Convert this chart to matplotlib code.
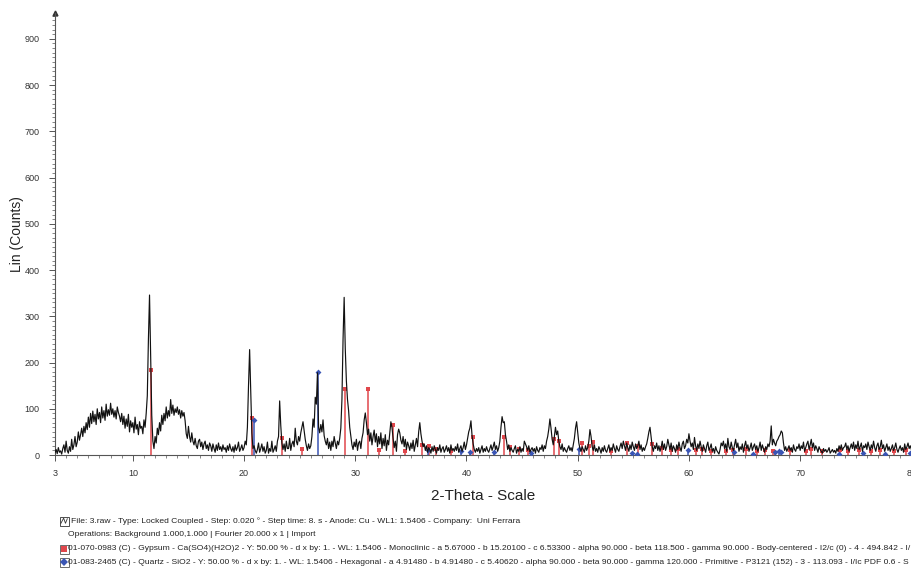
"""
XRD pattern (Lin counts vs 2-Theta) with gypsum and quartz reference sticks.
"""

import numpy as np
import matplotlib
matplotlib.use("Agg")
import matplotlib.pyplot as plt
from matplotlib.patches import Rectangle
from matplotlib.lines import Line2D
from matplotlib.ticker import MultipleLocator, FixedLocator

plt.rcParams['font.family'] = ['Liberation Sans', 'DejaVu Sans']

# ── Measured pattern: counts at 0.1 deg steps, one row per degree ────────────
counts_rows = [
    [5, 12, 3, 16, 6, 9, 2, 14, 22, 6],            # 3
    [30, 10, 4, 18, 8, 34, 12, 22, 40, 18],        # 4
    [28, 50, 32, 44, 58, 40, 62, 48, 70, 55],      # 5
    [82, 60, 90, 68, 95, 72, 88, 66, 100, 78],     # 6
    [92, 70, 104, 80, 96, 75, 110, 84, 98, 86],    # 7
    [112, 88, 100, 82, 96, 78, 104, 92, 84, 72],   # 8
    [90, 66, 84, 58, 78, 62, 88, 50, 74, 60],      # 9
    [70, 48, 82, 56, 66, 44, 72, 58, 62, 46],      # 10
    [76, 60, 90, 128, 250, 346, 210, 86, 30, 14],  # 11
    [40, 26, 58, 44, 70, 52, 86, 66, 90, 74],      # 12
    [104, 80, 96, 84, 120, 90, 108, 86, 100, 92],  # 13
    [104, 88, 98, 80, 96, 84, 92, 74, 46, 36],     # 14
    [62, 40, 28, 48, 30, 22, 36, 20, 14, 30],      # 15
    [34, 18, 28, 12, 24, 30, 14, 22, 10, 26],      # 16
    [20, 8, 24, 14, 6, 22, 10, 26, 12, 18],        # 17
    [8, 22, 12, 16, 6, 20, 10, 24, 14, 8],         # 18
    [18, 6, 22, 10, 16, 28, 8, 14, 22, 10],        # 19
    [16, 30, 22, 60, 150, 228, 140, 48, 14, 20],   # 20
    [10, 4, 12, 26, 6, 14, 24, 8, 18, 4],          # 21
    [10, 28, 4, 14, 8, 30, 6, 12, 20, 8],          # 22
    [30, 40, 117, 64, 26, 12, 24, 8, 30, 14],      # 23
    [14, 36, 10, 24, 30, 18, 58, 30, 22, 40],      # 24
    [30, 48, 60, 72, 52, 34, 20, 10, 24, 14],      # 25
    [20, 40, 78, 60, 125, 110, 178, 60, 48, 66],   # 26
    [50, 76, 42, 30, 22, 36, 14, 28, 10, 30],      # 27
    [18, 40, 26, 14, 30, 22, 36, 58, 120, 250],    # 28
    [341, 230, 160, 120, 96, 60, 40, 22, 12, 28],  # 29
    [18, 34, 10, 26, 30, 14, 36, 48, 76, 91],      # 30
    [70, 44, 56, 30, 48, 22, 40, 54, 28, 46],      # 31
    [18, 40, 24, 48, 14, 36, 20, 44, 10, 32],      # 32
    [22, 46, 72, 60, 36, 16, 30, 8, 44, 56],       # 33
    [48, 32, 24, 40, 18, 34, 12, 28, 20, 10],      # 34
    [26, 14, 32, 8, 22, 36, 18, 50, 70, 46],       # 35
    [30, 18, 24, 10, 20, 6, 16, 12, 4, 18],        # 36
    [8, 20, 12, 4, 16, 10, 22, 6, 14, 18],         # 37
    [6, 12, 20, 8, 16, 4, 22, 10, 14, 8],          # 38
    [18, 10, 24, 6, 14, 20, 8, 16, 28, 12],        # 39
    [22, 36, 50, 58, 74, 42, 24, 12, 6, 14],       # 40
    [8, 16, 4, 12, 20, 6, 14, 8, 18, 10],          # 41
    [6, 14, 22, 10, 18, 28, 12, 20, 8, 16],        # 42
    [30, 60, 83, 70, 72, 44, 30, 12, 22, 8],       # 43
    [16, 10, 6, 14, 20, 4, 12, 8, 18, 6],          # 44
    [14, 8, 30, 24, 18, 10, 20, 6, 12, 16],        # 45
    [8, 14, 4, 18, 10, 6, 16, 12, 22, 8],          # 46
    [20, 14, 30, 40, 56, 78, 58, 34, 22, 40],      # 47
    [60, 44, 52, 30, 18, 12, 24, 8, 16, 10],       # 48
    [6, 14, 20, 10, 16, 8, 22, 36, 58, 72],        # 49
    [50, 26, 14, 8, 18, 12, 6, 20, 10, 16],        # 50
    [30, 55, 40, 18, 10, 22, 8, 14, 6, 18],        # 51
    [12, 4, 16, 8, 20, 10, 6, 14, 22, 8],          # 52
    [16, 10, 24, 14, 6, 20, 12, 8, 18, 26],        # 53
    [14, 30, 20, 10, 26, 16, 8, 22, 12, 28],       # 54
    [18, 10, 24, 14, 20, 30, 12, 22, 8, 16],       # 55
    [10, 18, 24, 36, 50, 60, 40, 18, 8, 20],       # 56
    [14, 26, 10, 20, 8, 16, 30, 12, 24, 10],       # 57
    [18, 34, 22, 12, 26, 8, 20, 14, 6, 22],        # 58
    [12, 28, 16, 8, 24, 30, 14, 20, 34, 26],       # 59
    [46, 30, 18, 26, 12, 38, 20, 10, 24, 14],      # 60
    [30, 18, 8, 22, 14, 6, 20, 28, 10, 16],        # 61
    [24, 8, 14, 4, 18, 10, 6, 2, 12, 26],          # 62
    [20, 30, 14, 24, 8, 36, 18, 12, 28, 16],       # 63
    [10, 22, 34, 16, 26, 8, 18, 12, 24, 6],        # 64
    [20, 30, 14, 22, 8, 16, 26, 10, 18, 24],       # 65
    [12, 20, 8, 16, 28, 10, 22, 14, 6, 18],        # 66
    [12, 24, 18, 30, 63, 22, 34, 26, 20, 30],      # 67
    [34, 40, 44, 52, 48, 26, 10, 18, 8, 14],       # 68
    [20, 10, 16, 6, 22, 12, 8, 18, 14, 24],        # 69
    [10, 20, 14, 28, 8, 16, 24, 30, 12, 22],       # 70
    [34, 16, 26, 10, 20, 14, 6, 18, 12, 8],        # 71
    [4, 14, 8, 12, 6, 10, 16, 4, 8, 12],           # 72
    [6, 10, 4, 14, 8, 20, 12, 22, 10, 16],         # 73
    [18, 26, 12, 20, 8, 16, 24, 14, 28, 10],       # 74
    [22, 14, 30, 12, 18, 26, 8, 20, 16, 24],       # 75
    [12, 28, 18, 10, 22, 14, 30, 16, 8, 20],       # 76
    [26, 12, 18, 32, 14, 22, 8, 16, 24, 10],       # 77
    [18, 8, 14, 22, 10, 16, 26, 12, 6, 14],        # 78
    [20, 10, 16, 6, 24, 12, 18, 26, 14, 20],       # 79
    [12],                                          # 80
]
counts = np.concatenate([np.asarray(r, dtype=float) for r in counts_rows])
two_theta = np.round(3.0 + 0.1 * np.arange(len(counts)), 2)

# ── Reference sticks ─────────────────────────────────────────────────────────
gypsum_pos = [11.59, 20.72, 23.38, 25.2, 29.11, 31.10, 32.1, 33.40, 34.5, 36.0,
              36.6, 37.3, 38.6, 40.6, 43.35, 43.9, 44.7, 45.5, 47.9, 48.35,
              50.35, 51.0, 51.4, 53.0, 54.4, 55.4, 56.7, 57.6, 58.4, 59.0,
              60.6, 61.2, 62.0, 63.3, 64.0, 65.1, 66.1, 66.8, 67.6, 69.1,
              70.5, 71.0, 72.0, 73.6, 74.3, 75.3, 76.4, 77.2, 78.4, 79.5]
gypsum_int = [183, 80, 37, 14, 143, 143, 10, 65, 8, 22,
              20, 12, 8, 38, 39, 18, 12, 10, 35, 30,
              26, 20, 28, 8, 26, 20, 24, 16, 10, 12,
              10, 12, 8, 8, 10, 12, 8, 10, 8, 10,
              8, 12, 8, 10, 8, 10, 8, 10, 8, 10]

quartz_pos = [20.86, 26.64, 36.54, 39.47, 40.29, 42.45, 45.79, 50.14, 54.87,
              55.34, 59.96, 64.04, 65.79, 67.74, 68.14, 68.31, 73.47, 75.66,
              77.67, 79.87]
quartz_int = [76, 180, 10, 9, 7, 7, 5, 14, 5, 3, 10, 6, 3, 7, 9, 6, 3, 4, 2, 4]

info_lines = [
    "File: 3.raw - Type: Locked Coupled - Step: 0.020 \u00b0 - Step time: 8. s - "
    "Anode: Cu - WL1: 1.5406 - Company:  Uni Ferrara",
    "Operations: Background 1.000,1.000 | Fourier 20.000 x 1 | Import",
    "01-070-0983 (C) - Gypsum - Ca(SO4)(H2O)2 - Y: 50.00 % - d x by: 1. - WL: 1.5406 - "
    "Monoclinic - a 5.67000 - b 15.20100 - c 6.53300 - alpha 90.000 - beta 118.500 - "
    "gamma 90.000 - Body-centered - I2/c (0) - 4 - 494.842 - I/",
    "01-083-2465 (C) - Quartz - SiO2 - Y: 50.00 % - d x by: 1. - WL: 1.5406 - "
    "Hexagonal - a 4.91480 - b 4.91480 - c 5.40620 - alpha 90.000 - beta 90.000 - "
    "gamma 120.000 - Primitive - P3121 (152) - 3 - 113.093 - I/Ic PDF 0.6 - S",
]

GYP_COLOR = '#e0474c'
QTZ_COLOR = '#3a55b4'

fig = plt.figure(figsize=(9.12, 5.72), dpi=100)
ax = fig.add_axes([0.0603, 0.2045, 0.939, 0.772])

# reference sticks first, pattern on top
ax.vlines(gypsum_pos, 0, gypsum_int, color=GYP_COLOR, linewidth=1.1, zorder=2)
ax.plot(gypsum_pos, gypsum_int, 's', color=GYP_COLOR, markersize=3.4,
        markeredgewidth=0, zorder=3)
ax.vlines(quartz_pos, 0, quartz_int, color=QTZ_COLOR, linewidth=1.1, zorder=2)
ax.plot(quartz_pos, quartz_int, 'D', color=QTZ_COLOR, markersize=3.0,
        markeredgewidth=0, zorder=3)
ax.plot(two_theta, counts, color='#111111', linewidth=0.85, zorder=4)

ax.set_xlim(3, 80)
ax.set_ylim(0, 955)

for side in ('top', 'right'):
    ax.spines[side].set_visible(False)
for side in ('left', 'bottom'):
    ax.spines[side].set_color('#555555')
    ax.spines[side].set_linewidth(0.8)
ax.plot(0, 1, '^', color='#333333', markersize=3.5, transform=ax.transAxes,
        clip_on=False)

ax.xaxis.set_major_locator(FixedLocator([3, 10, 20, 30, 40, 50, 60, 70, 80]))
ax.xaxis.set_minor_locator(MultipleLocator(1))
ax.yaxis.set_major_locator(MultipleLocator(100))
ax.yaxis.set_minor_locator(MultipleLocator(10))
ax.tick_params(axis='both', which='major', labelsize=6.5, length=4, width=0.7,
               color='#555555', labelcolor='#333333')
ax.tick_params(axis='both', which='minor', length=2.5, width=0.5,
               color='#555555')
ax.tick_params(axis='x', which='major', pad=6)
ax.tick_params(axis='y', which='major', pad=7)

ax.set_xlabel('2-Theta - Scale', fontsize=11, color='#222222', labelpad=8)
ax.set_ylabel('Lin (Counts)', fontsize=10, color='#222222')
ax.yaxis.set_label_coords(-0.036, 0.5)

# ── Info block below the plot ────────────────────────────────────────────────
line_y = [1 - 521 / 572, 1 - 535 / 572, 1 - 549 / 572, 1 - 562 / 572]
line_x = [71 / 912, 68 / 912, 68 / 912, 68 / 912]
for text, x, y in zip(info_lines, line_x, line_y):
    fig.text(x, y, text, fontsize=6.1, color='#222222', va='center', ha='left')

# file icon
bx, bw, bh = 60 / 912, 9 / 912, 9 / 572
fig.add_artist(Rectangle((bx, line_y[0] - bh / 2), bw, bh, transform=fig.transFigure,
                         fill=False, edgecolor='#333333', linewidth=0.6))
fig.add_artist(Line2D([bx + 0.001, bx + 0.004, bx + 0.006, bx + 0.008],
                      [line_y[0] - 0.004, line_y[0] + 0.005, line_y[0] - 0.004,
                       line_y[0] + 0.004], transform=fig.transFigure,
                      color='#333333', linewidth=0.6))
# phase icons
for y, mk, col in [(line_y[2], 's', GYP_COLOR), (line_y[3], 'D', QTZ_COLOR)]:
    fig.add_artist(Rectangle((bx, y - bh / 2), bw, bh, transform=fig.transFigure,
                             fill=False, edgecolor='#555555', linewidth=0.6))
    fig.add_artist(Line2D([bx + bw / 2], [y], marker=mk, color=col, markersize=4,
                          markeredgewidth=0, transform=fig.transFigure))

fig.savefig('out.png', dpi=100)
